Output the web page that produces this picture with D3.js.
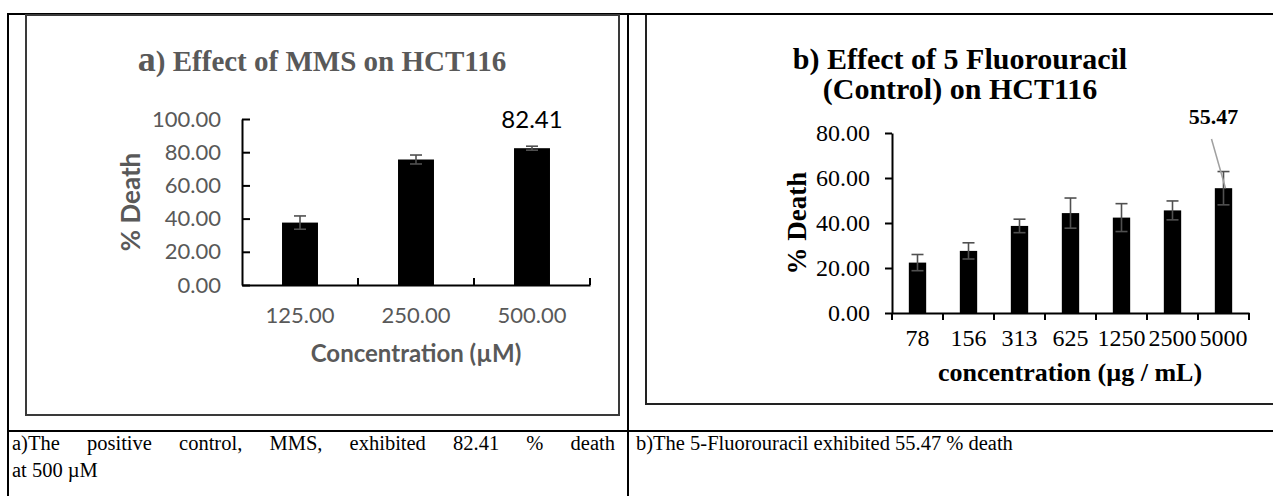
<!DOCTYPE html>
<html>
<head>
<meta charset="utf-8">
<script src="https://cdn.jsdelivr.net/npm/d3@7"></script>
<style>
  html, body { margin: 0; padding: 0; background: #fff; }
  svg { display: block; }
</style>
</head>
<body>
<div id="fig"></div>
<script>
// chart a: MMS
var mmsConc = ['125.00', '250.00', '500.00'];
var mmsDeath = [37.6, 75.6, 82.41];
var mmsErr = [4.0, 2.7, 1.2];
var mmsTicks = [0, 20, 40, 60, 80, 100];

// chart b: 5 Fluorouracil
var fuConc = ['78', '156', '313', '625', '1250', '2500', '5000'];
var fuDeath = [22.4, 27.6, 38.7, 44.4, 42.4, 45.6, 55.47];
var fuErr = [3.6, 3.6, 3.0, 6.7, 6.2, 4.2, 7.4];
var fuTicks = [0, 20, 40, 60, 80];

var captionA = ['a)The positive control, MMS, exhibited 82.41 % death', 'at 500 \u00b5M'];
var captionB = 'b)The 5-Fluorouracil exhibited 55.47 % death';

var width = 1273, height = 496;
var serif = '"Liberation Serif", "Times New Roman", serif';
var sans = 'Lato, "Noto Sans", sans-serif';
var fmt = d3.format('.2f');

var svg = d3.select('#fig').append('svg')
  .attr('width', width)
  .attr('height', height);

// ---- table frame ----
var frame = svg.append('g').attr('stroke', '#000').attr('stroke-width', 2);
frame.append('line').attr('x1', 8).attr('y1', 14).attr('x2', width).attr('y2', 14);
frame.append('line').attr('x1', 8).attr('y1', 13).attr('x2', 8).attr('y2', height);
frame.append('line').attr('x1', 628).attr('y1', 13).attr('x2', 628).attr('y2', height);
frame.append('line').attr('x1', 8).attr('y1', 431).attr('x2', width).attr('y2', 431);

// chart boxes
svg.append('rect').attr('x', 26).attr('y', 15).attr('width', 593).attr('height', 400)
  .attr('fill', 'none').attr('stroke', '#3a3a3a').attr('stroke-width', 2);
svg.append('path').attr('d', 'M646,15V404H' + width)
  .attr('fill', 'none').attr('stroke', '#222').attr('stroke-width', 2);

// ---- chart a ----
var ga = svg.append('g');
var xa = d3.scaleBand().domain(mmsConc).range([242, 590]);
var ya = d3.scaleLinear().domain([0, 100]).range([285, 119]);
var bwa = xa.bandwidth() * 0.31;

ga.append('text')
  .attr('x', 322).attr('y', 71)
  .attr('text-anchor', 'middle')
  .attr('font-family', serif).attr('font-weight', 'bold')
  .attr('fill', '#595959').attr('font-size', 29)
  .call(function(t) {
    t.append('tspan').attr('font-size', 36).text('a');
    t.append('tspan').text(') Effect of MMS on HCT116');
  });

var yAxisA = ga.append('g')
  .attr('transform', 'translate(242,0)')
  .call(d3.axisLeft(ya).tickValues(mmsTicks).tickFormat(fmt).tickSizeInner(-8).tickSizeOuter(0).tickPadding(21));
yAxisA.select('.domain').attr('stroke', '#000').attr('stroke-width', 2);
yAxisA.selectAll('.tick line').attr('stroke', '#000').attr('stroke-width', 2);
yAxisA.selectAll('.tick text').attr('font-family', sans).attr('font-size', 22).attr('fill', '#595959');

var xAxisA = ga.append('g')
  .attr('transform', 'translate(0,285)')
  .call(d3.axisBottom(xa).tickSize(0).tickPadding(22));
xAxisA.select('.domain').attr('stroke', '#000').attr('stroke-width', 2);
xAxisA.selectAll('.tick text').attr('font-family', sans).attr('font-size', 22).attr('fill', '#595959');

// category boundary ticks pointing up
ga.selectAll('line.bound')
  .data(mmsConc.map(function(d) { return xa(d); }).concat([xa.range()[1]]).slice(1))
  .enter().append('line')
  .attr('x1', function(d) { return d; }).attr('x2', function(d) { return d; })
  .attr('y1', 285).attr('y2', 278)
  .attr('stroke', '#000').attr('stroke-width', 2);

ga.selectAll('rect.bar')
  .data(mmsDeath)
  .enter().append('rect')
  .attr('x', function(d, i) { return xa(mmsConc[i]) + (xa.bandwidth() - bwa) / 2; })
  .attr('y', function(d) { return ya(d); })
  .attr('width', bwa)
  .attr('height', function(d) { return ya(0) - ya(d); })
  .attr('fill', '#000');

function errorBars(g, cats, vals, errs, x, y, color) {
  var eb = g.selectAll('g.err')
    .data(vals)
    .enter().append('g')
    .attr('stroke', color).attr('stroke-width', 1.6);
  eb.append('line')
    .attr('x1', function(d, i) { return x(cats[i]) + x.bandwidth() / 2; })
    .attr('x2', function(d, i) { return x(cats[i]) + x.bandwidth() / 2; })
    .attr('y1', function(d, i) { return y(d + errs[i]); })
    .attr('y2', function(d, i) { return y(d - errs[i]); });
  [1, -1].forEach(function(s) {
    eb.append('line')
      .attr('x1', function(d, i) { return x(cats[i]) + x.bandwidth() / 2 - 6; })
      .attr('x2', function(d, i) { return x(cats[i]) + x.bandwidth() / 2 + 6; })
      .attr('y1', function(d, i) { return y(d + s * errs[i]); })
      .attr('y2', function(d, i) { return y(d + s * errs[i]); });
  });
}
errorBars(ga, mmsConc, mmsDeath, mmsErr, xa, ya, '#505050');

ga.append('text')
  .attr('x', xa(mmsConc[2]) + xa.bandwidth() / 2)
  .attr('y', 128)
  .attr('text-anchor', 'middle')
  .attr('font-family', sans).attr('font-size', 24).attr('fill', '#000')
  .text(fmt(mmsDeath[2]));

ga.append('text')
  .attr('x', 416).attr('y', 362)
  .attr('text-anchor', 'middle')
  .attr('font-family', sans).attr('font-weight', 'bold').attr('font-size', 24).attr('fill', '#595959')
  .text('Concentration (\u00b5M)');

ga.append('text')
  .attr('transform', 'translate(140,202) rotate(-90)')
  .attr('text-anchor', 'middle')
  .attr('font-family', sans).attr('font-weight', 'bold').attr('font-size', 26).attr('fill', '#595959')
  .text('% Death');

// ---- chart b ----
var gb = svg.append('g');
var xb = d3.scaleBand().domain(fuConc).range([892, 1249]);
var yb = d3.scaleLinear().domain([0, 80]).range([313, 133]);
var bwb = xb.bandwidth() * 0.34;

gb.selectAll('text.title')
  .data(['b) Effect of 5 Fluorouracil', '(Control) on HCT116'])
  .enter().append('text')
  .attr('x', 960)
  .attr('y', function(d, i) { return 69 + i * 30; })
  .attr('text-anchor', 'middle')
  .attr('font-family', serif).attr('font-weight', 'bold').attr('font-size', 30).attr('fill', '#000')
  .text(function(d) { return d; });

var yAxisB = gb.append('g')
  .attr('transform', 'translate(892,0)')
  .call(d3.axisLeft(yb).tickValues(fuTicks).tickFormat(fmt).tickSizeInner(7).tickSizeOuter(0).tickPadding(15));
yAxisB.select('.domain').attr('stroke', '#000').attr('stroke-width', 2);
yAxisB.selectAll('.tick line').attr('stroke', '#000').attr('stroke-width', 2);
yAxisB.selectAll('.tick text').attr('font-family', serif).attr('font-size', 24).attr('fill', '#000');

var xAxisB = gb.append('g')
  .attr('transform', 'translate(0,313)')
  .call(d3.axisBottom(xb).tickSize(0).tickPadding(16));
xAxisB.select('.domain').attr('stroke', '#000').attr('stroke-width', 2);
xAxisB.selectAll('.tick text').attr('font-family', serif).attr('font-size', 24).attr('fill', '#000');

gb.selectAll('line.bound')
  .data(fuConc.map(function(d) { return xb(d); }).concat([xb.range()[1]]))
  .enter().append('line')
  .attr('x1', function(d) { return d; }).attr('x2', function(d) { return d; })
  .attr('y1', 313).attr('y2', 320)
  .attr('stroke', '#000').attr('stroke-width', 2);

gb.selectAll('rect.bar')
  .data(fuDeath)
  .enter().append('rect')
  .attr('x', function(d, i) { return xb(fuConc[i]) + (xb.bandwidth() - bwb) / 2; })
  .attr('y', function(d) { return yb(d); })
  .attr('width', bwb)
  .attr('height', function(d) { return yb(0) - yb(d); })
  .attr('fill', '#000');

errorBars(gb, fuConc, fuDeath, fuErr, xb, yb, '#505050');

// callout for the top value
var last = fuConc.length - 1;
var tipX = xb(fuConc[last]) + xb.bandwidth() / 2 + 2;
gb.append('line')
  .attr('x1', tipX - 14).attr('y1', 139)
  .attr('x2', tipX).attr('y2', yb(fuDeath[last]))
  .attr('stroke', '#a0a0a0').attr('stroke-width', 1.5);
gb.append('text')
  .attr('x', tipX - 12).attr('y', 124)
  .attr('text-anchor', 'middle')
  .attr('font-family', serif).attr('font-weight', 'bold').attr('font-size', 22).attr('fill', '#000')
  .text(fmt(fuDeath[last]));

gb.append('text')
  .attr('x', 1070).attr('y', 381)
  .attr('text-anchor', 'middle')
  .attr('font-family', serif).attr('font-weight', 'bold').attr('font-size', 26).attr('fill', '#000')
  .text('concentration (\u00b5g / mL)');

gb.append('text')
  .attr('transform', 'translate(806,223) rotate(-90)')
  .attr('text-anchor', 'middle')
  .attr('font-family', serif).attr('font-weight', 'bold').attr('font-size', 27).attr('fill', '#000')
  .text('% Death');

// ---- captions ----
var capA = svg.append('text')
  .attr('x', 12).attr('y', 450)
  .attr('font-family', serif).attr('font-size', 20.5).attr('fill', '#000')
  .text(captionA[0]);
// justify the first (wrapped) line across the cell by widening word gaps
var gaps = captionA[0].split(' ').length - 1;
var natural = capA.node().getComputedTextLength();
capA.attr('word-spacing', Math.max(0, (603 - natural) / gaps));

svg.append('text')
  .attr('x', 12).attr('y', 477)
  .attr('font-family', serif).attr('font-size', 20.5).attr('fill', '#000')
  .text(captionA[1]);
svg.append('text')
  .attr('x', 636).attr('y', 450)
  .attr('font-family', serif).attr('font-size', 20.5).attr('fill', '#000')
  .text(captionB);
</script>
</body>
</html>
